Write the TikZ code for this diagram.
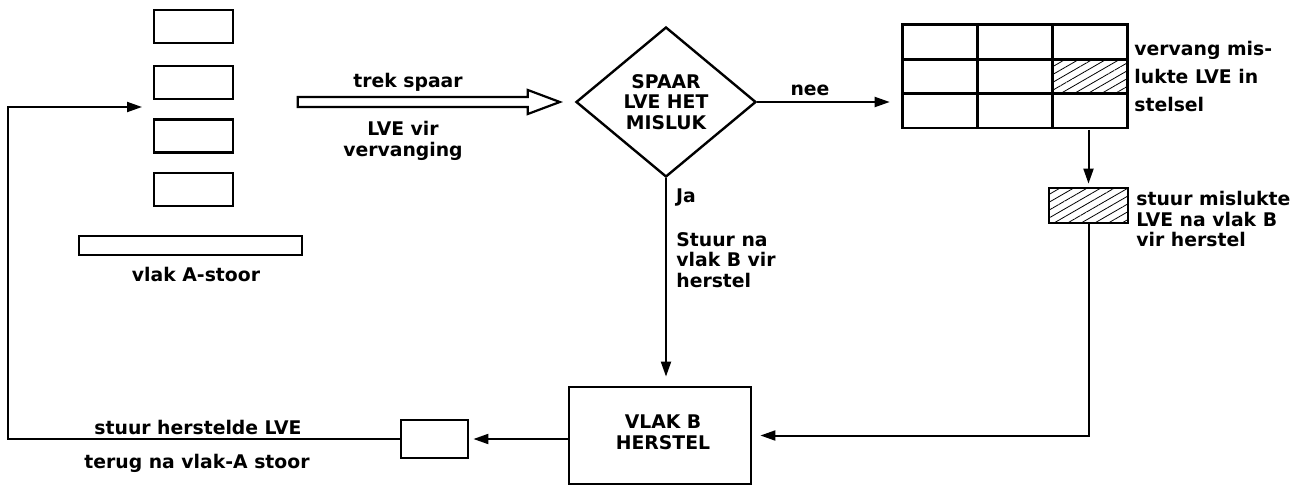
\documentclass[tikz,border=0pt]{standalone}
\usepackage{fontspec}
\setmainfont{DejaVu Sans}
\usetikzlibrary{arrows.meta, positioning, calc, patterns.meta, shapes.geometric, matrix}
\newcommand{\lblfont}{\fontsize{9.4}{10.3}\selectfont\bfseries}
\tikzset{
  lbl/.style={font=\lblfont, inner sep=0pt},
  box/.style={rectangle, draw, line width=1.4pt, inner sep=0pt},
  slot/.style={box, minimum width=39.5pt, minimum height=16.5pt},
  cell/.style={box, minimum width=37.5pt, minimum height=17.2pt},
  hatched/.style={pattern={Lines[angle=30, distance=3.4pt, line width=0.4pt]}},
  decision/.style={diamond, draw, line width=1.2pt, aspect=1.2,
                   minimum width=90pt, minimum height=75pt, inner sep=0pt,
                   align=center, font=\lblfont},
  flow/.style={line width=1pt, -{Triangle[length=7.5pt, width=5pt]}},
  fatarrow/.style={line width=1.1pt, line join=miter}
}
\begin{document}
\begin{tikzpicture}[x=0.5pt, y=-0.5pt]
  \useasboundingbox (0,0) rectangle (1305,486);

  % vlak A store
  \foreach \yy/\nm in {26.5/s1, 82.5/s2, 136/s3, 189.5/s4}
    \node[slot] (\nm) at (193.5,\yy) {};
  \node[box, minimum width=111.5pt, minimum height=9.5pt] (bar) at (190.5,245.5) {};
  \node[lbl] (storelbl) at (196,274) {vlak A-stoor};

  % decision
  \node[decision] (dia) at (666,102) {SPAAR\\LVE HET\\MISLUK};

  % hollow arrow
  \coordinate (ht) at ($(dia.west)+(-15,0)$);
  \coordinate (hs) at ($(dia.west)+(-277,0)$);
  \draw[fatarrow] ($(hs)+(0,-5)$) -- ($(ht)+(-32,-5)$) -- ($(ht)+(-32,-12)$)
     -- (ht) -- ($(ht)+(-32,12)$) -- ($(ht)+(-32,5)$)
     -- ($(hs)+(0,5)$) -- cycle;
  \node[lbl] (trek) at (408,82) {trek spaar};
  \node[lbl, align=center] (vir) at (403,141) {LVE vir\\vervanging};

  % system grid
  \matrix (grid) [matrix of nodes, nodes in empty cells, inner sep=0pt,
                  nodes={cell}, column sep=-1.4pt, row sep=-1.4pt] at (1015,76.5)
  {
     & & \\
     & & |[hatched]| \\
     & & \\
  };
  \node[lbl, align=left, anchor=west] (gridlbl) at (1134,76)
      {vervang mis-\\[3.7pt]lukte LVE in\\[3.7pt]stelsel};

  % failed unit
  \node[box, hatched, minimum width=39.5pt, minimum height=17.5pt] (fail) at (1088.5,205.5) {};
  \node[lbl, align=left, anchor=west] (faillbl) at (1136,219)
      {stuur mislukte\\LVE na vlak B\\vir herstel};

  % vlak B repair
  \node[box, minimum width=91pt, minimum height=48.5pt] (herstel) at (660,435.5) {};
  \node[lbl, align=center] at (663,432) {VLAK B\\HERSTEL};
  \node[box, minimum width=33.5pt, minimum height=19pt] (repaired) at (434.5,439) {};

  \node[lbl] (ja) at (686,198) {Ja};
  \node[lbl, align=left, anchor=west] (stuur) at (676,260) {Stuur na\\vlak B vir\\herstel};
  \node[lbl] (nee) at (810,90) {nee};
  \node[lbl] (back1) at (198,427) {stuur herstelde LVE};
  \node[lbl] (back2) at (197,463) {terug na vlak-A stoor};

  % connectors
  \coordinate (ret) at (142,107);
  \draw[flow, shorten >=5.5pt] (dia.east) -- (dia.east -| grid.west);
  \draw[flow, shorten >=1.5pt] (grid.south -| fail.north) -- (fail.north);
  \draw[flow, shorten >=4.5pt] (dia.south) -- (dia.south |- herstel.north);
  \draw[flow, shorten >=4pt] (fail.south) |- (herstel.east);
  \draw[flow, shorten >=2pt] (herstel.west |- repaired.east) -- (repaired.east);
  \draw[flow] (repaired.west) -- ++(-392,0) |- (ret);
\end{tikzpicture}
\end{document}
